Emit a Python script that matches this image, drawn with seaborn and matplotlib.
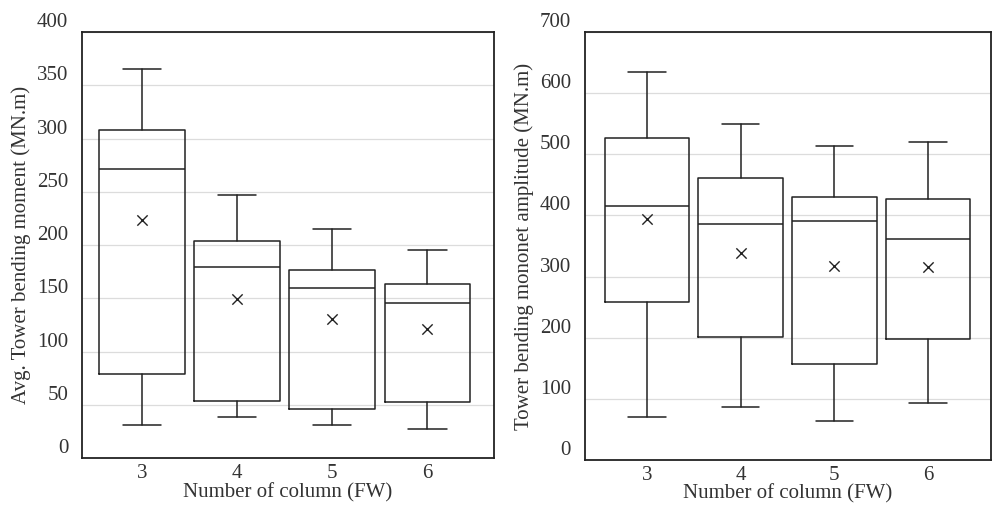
import matplotlib
matplotlib.use('Agg')
import matplotlib.pyplot as plt
import matplotlib.transforms as mtransforms
import seaborn as sns
import numpy as np

# Box statistics
columns = ['3', '4', '5', '6']

avg_whislo = [31, 39, 31, 27]
avg_q1 = [79, 54, 46, 53]
avg_med = [271, 179, 160, 146]
avg_q3 = [308, 204, 177, 163]
avg_whishi = [365, 247, 215, 195]
avg_mean = [224, 149, 131, 121]

amp_whislo = [71, 86, 64, 94]
amp_q1 = [258, 202, 157, 198]
amp_med = [416, 386, 391, 362]
amp_q3 = [526, 462, 430, 427]
amp_whishi = [635, 549, 513, 521]
amp_mean = [394, 339, 318, 316]

avg_ticks = [0, 50, 100, 150, 200, 250, 300, 350, 400]
amp_ticks = [0, 100, 200, 300, 400, 500, 600, 700]

sns.set_theme(style='white')
plt.rcParams['font.family'] = ['Liberation Serif', 'DejaVu Serif']


def make_stats(lo, q1, med, q3, hi, mean):
    return [dict(whislo=a, q1=b, med=c, q3=d, whishi=e, mean=f, fliers=[])
            for a, b, c, d, e, f in zip(lo, q1, med, q3, hi, mean)]


def draw_panel(ax, stats, means, ticks, ylim, ylabel, xlim):
    line = dict(color='#222222', linewidth=1.1)
    pos = np.arange(len(columns))
    ax.bxp(stats, positions=pos, widths=0.9, showmeans=False, showfliers=False,
           boxprops=line, medianprops=line, whiskerprops=line,
           capprops=line, capwidths=0.4, manage_ticks=False)
    sns.scatterplot(x=pos, y=means, marker='x', color='#222222', s=55,
                    linewidth=1.0, ax=ax, zorder=5)
    ax.set_xlim(*xlim)
    ax.set_ylim(*ylim)
    ax.set_xticks(pos)
    ax.set_xticklabels(columns)
    ax.set_yticks(ticks)
    ax.set_yticklabels([str(t) for t in ticks])
    ax.yaxis.grid(True, color='#dcdcdc', linewidth=0.9)
    ax.set_axisbelow(True)
    ax.tick_params(axis='x', direction='in', length=5, width=0.8,
                   color='#666666', labelsize=15, labelcolor='#333333', pad=4)
    ax.tick_params(axis='y', direction='in', length=0, labelsize=15,
                   labelcolor='#333333', pad=10)
    for sp in ax.spines.values():
        sp.set_color('#222222')
        sp.set_linewidth(1.3)
    ax.set_xlabel('Number of column (FW)', fontsize=15, color='#333333', labelpad=0)
    ax.set_ylabel(ylabel, fontsize=15, color='#333333', labelpad=4)
    # labels in the source sit a little above their gridlines
    shift = mtransforms.ScaledTranslation(0, 12 / 100, ax.figure.dpi_scale_trans)
    for lab in ax.get_yticklabels():
        lab.set_transform(lab.get_transform() + shift)


fig = plt.figure(figsize=(9.93, 5.07), dpi=100)
ax1 = fig.add_axes([0.0826, 0.0966, 0.415, 0.840])
ax2 = fig.add_axes([0.589, 0.0927, 0.409, 0.844])

draw_panel(ax1, make_stats(avg_whislo, avg_q1, avg_med, avg_q3, avg_whishi, avg_mean),
           avg_mean, avg_ticks, (0, 400), 'Avg. Tower bending moment (MN.m)', (-0.63, 3.70))
draw_panel(ax2, make_stats(amp_whislo, amp_q1, amp_med, amp_q3, amp_whishi, amp_mean),
           amp_mean, amp_ticks, (0, 700), 'Tower bending mononet amplitude (MN.m)', (-0.66, 3.67))

fig.savefig('out.png', dpi=100)
